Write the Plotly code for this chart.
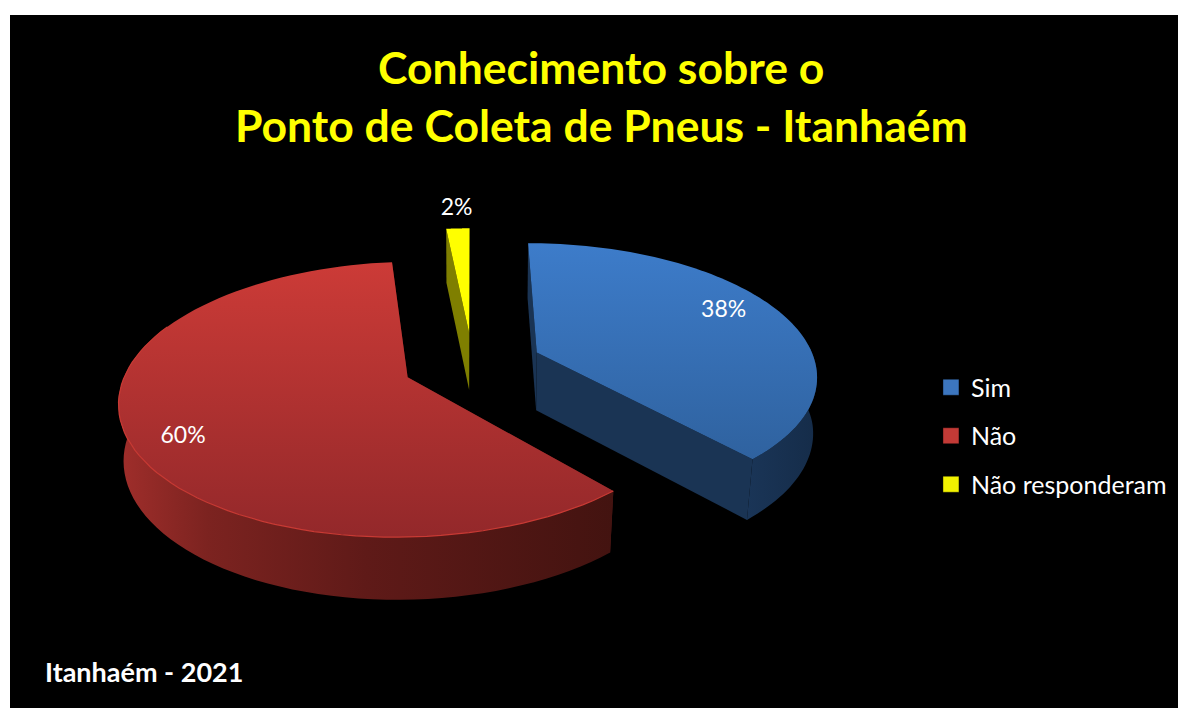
import numpy as np
import plotly.graph_objects as go

# ---- data ----
categories = ["Sim", "Não", "Não responderam"]
shares = [38.4, 60.0, 1.6]
title_lines = ["Conhecimento sobre o", "Ponto de Coleta de Pneus - Itanhaém"]
footer = "Itanhaém - 2021"

# ---- styling ----
FONT = "Lato"
legend_colors = ["#3c76bf", "#c23a36", "#f2f200"]
top_grad = [["#3d7cca", "#2f629f"], ["#cc3b37", "#93282a"], ["#ffff00", "#ffff00"]]
wall_grad = [
    [[0, "#1a3557"], [1, "#152c49"]],
    [[0, "#a02e2b"], [0.18, "#7c2320"], [0.5, "#5f1a18"], [1, "#431310"]],
    [[0, "#7d7d00"], [1, "#7d7d00"]],
]
cut_color = ["#1a3454", "#5a1a18", "#7f7f00"]

# ---- projection of the exploded 3-D pie ----
CX, CY = 472.5, 364
A, B, K = 279, 130, 0.158
EXPLODE = 0.25
DEPTH = 58
label_r = [0.76, 0.78, 1.24]
label_shift = [(2, -8), (-8, 16), (1, 2)]


def project(X, Y, low=False):
    Y = np.asarray(Y)
    s = 1 / (1 + K * Y)
    x = A * np.asarray(X) * s
    y = B * Y * s
    if low:
        shrink = 0.99 - 0.015 * np.clip(-Y, 0, 1.2)
        return CX + x * shrink, CY - y + DEPTH * s ** 0.4
    return CX + x, CY - y


def slice_geometry(start, sweep):
    mid = start + sweep / 2
    ox, oy = EXPLODE * np.sin(mid), EXPLODE * np.cos(mid)
    th = np.linspace(start, start + sweep, 90)
    return ox, oy, ox + np.sin(th), oy + np.cos(th), mid


fig = go.Figure()
fracs = np.array(shares) / sum(shares)
starts = np.concatenate([[0], np.cumsum(fracs)[:-1]]) * 2 * np.pi
sweeps = fracs * 2 * np.pi
labels = []

for i in [1, 2, 0]:
    ox, oy, X, Y, mid = slice_geometry(starts[i], sweeps[i])
    ax, ay = project(ox, oy)
    bx, by = project(ox, oy, True)
    tx, ty = project(X, Y)
    ux, uy = project(X, Y, True)

    # cut faces
    for j in [0, -1]:
        fig.add_trace(go.Scatter(
            x=[ax, tx[j], ux[j], bx], y=[ay, ty[j], uy[j], by], fill="toself", mode="none",
            fillcolor=cut_color[i], showlegend=False, hoverinfo="skip"))
    # outer wall (front-facing part only)
    if i == 0:
        keep = Y < 0.6
    elif i == 1:
        keep = Y < 0.3
    else:
        keep = np.zeros_like(Y, bool)
    if keep.any():
        fig.add_trace(go.Scatter(
            x=np.r_[tx[keep], ux[keep][::-1]], y=np.r_[ty[keep], uy[keep][::-1]],
            fill="toself", mode="none", showlegend=False, hoverinfo="skip",
            fillgradient=dict(type="horizontal", colorscale=wall_grad[i])))
    # top face
    fig.add_trace(go.Scatter(
        x=np.r_[ax, tx, ax], y=np.r_[ay, ty, ay], fill="toself", mode="none",
        showlegend=False, hoverinfo="skip",
        fillgradient=dict(type="vertical",
                          colorscale=[[0, top_grad[i][1]], [1, top_grad[i][0]]])))
    if i == 1:
        fig.add_trace(go.Scatter(
            x=tx[keep], y=ty[keep], mode="lines", line=dict(color="#c83a34", width=1.2),
            showlegend=False, hoverinfo="skip"))
    r = label_r[i]
    lx, ly = project(ox + r * np.sin(mid), oy + r * np.cos(mid))
    labels.append((lx + label_shift[i][0], ly + label_shift[i][1], f"{round(shares[i])}%"))

# data labels
fig.add_trace(go.Scatter(
    x=[l[0] for l in labels], y=[l[1] for l in labels], text=[l[2] for l in labels],
    mode="text", textfont=dict(family=FONT, size=23, color="white"),
    showlegend=False, hoverinfo="skip"))

# legend
for name, col in zip(categories, legend_colors):
    fig.add_trace(go.Scatter(
        x=[None], y=[None], mode="markers", name=name, legendgroup=name,
        marker=dict(symbol="square", size=16, color=col, line=dict(width=1, color="rgba(0,0,0,0.4)"))))

fig.update_layout(
    width=1178, height=708, autosize=False,
    margin=dict(l=10, r=0, t=15, b=0),
    paper_bgcolor="white", plot_bgcolor="black",
    xaxis=dict(range=[10, 1178], visible=False, fixedrange=True),
    yaxis=dict(range=[708, 15], visible=False, fixedrange=True),
    legend=dict(x=0.7885, y=0.3925, xanchor="left", yanchor="middle",
                xref="paper", yref="paper", bgcolor="rgba(0,0,0,0)",
                font=dict(family=FONT, size=25, color="white"),
                tracegroupgap=13, itemwidth=30),
    annotations=[
        dict(text="<b>" + title_lines[0] + "</b>", x=601, y=66, xref="x", yref="y", showarrow=False,
             font=dict(family=FONT, size=44.5, color="#ffff00")),
        dict(text="<b>" + title_lines[1] + "</b>", x=601, y=124, xref="x", yref="y", showarrow=False,
             font=dict(family=FONT, size=44.5, color="#ffff00")),
        dict(text="<b>" + footer + "</b>", x=43, y=671, xref="x", yref="y", xanchor="left",
             showarrow=False, font=dict(family=FONT, size=27, color="white")),
    ],
)
fig.write_html("out.html", config={"displayModeBar": False},
               post_script="document.body.style.margin='0';")
